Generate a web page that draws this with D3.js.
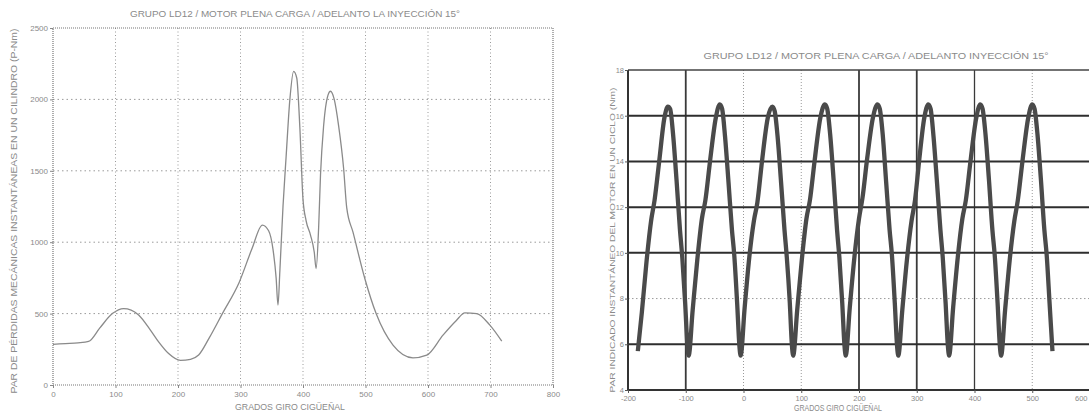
<!DOCTYPE html>
<html><head><meta charset="utf-8">
<script src="https://cdn.jsdelivr.net/npm/d3@7"></script>
<style>body{margin:0;background:#fff;overflow:hidden}svg{display:block}text{font-family:"Liberation Sans",Arial,sans-serif}</style>
</head><body>
<svg id="c" width="1089" height="417"></svg>
<script>
// ---- Left chart data (mechanical losses torque, one cylinder) ----
const lossAngles = [0,20,40,57,75,95,113,125,137,155,169,185,204,220,233,250,271,298,318,335,345,352,357,360,363,368,373,379,385,390,395,400,405,412,418,421,425,428,433,440,444,450,457,465,470,480,499,517,544,576,598,624,645,659,678,699,718];
const lossValues = [285,290,295,305,400,500,535,525,490,390,302,220,172,180,210,330,500,720,950,1120,1080,950,750,560,800,1250,1600,2000,2196,2150,1800,1300,1150,1050,930,815,1100,1470,1815,2030,2057,2000,1815,1516,1240,1070,744,500,279,190,209,349,450,505,500,419,307];
const leftXTicks = [0,100,200,300,400,500,600,700,800];
const leftYTicks = [0,500,1000,1500,2000,2500];
const leftTitle = "GRUPO LD12 / MOTOR PLENA CARGA / ADELANTO LA INYECCIÓN 15°";
const leftYLabel = "PAR DE PÉRDIDAS MECÁNICAS INSTANTÁNEAS EN UN CILINDRO (P-Nm)";
const xLabel = "GRADOS GIRO CIGÜEÑAL";

// ---- Right chart data (indicated torque of the engine) ----
const engAngles = [-183,-176,-168,-160,-154,-146,-137,-131,-127,-122,-116,-110,-106,-101,-97,
 -95,-88,-80,-72,-66,-58,-48,-41,-37,-32,-26,-20,-16,-11,-7,
 -5,2,10,18,24,32,42,50,54,59,65,71,75,80,84,
 86,93,101,109,115,123,133,141,145,150,156,162,166,171,175,
 177,184,192,200,206,214,224,232,236,241,247,253,257,262,266,
 268,275,283,291,297,304,313,320,324,329,335,341,345,350,354,
 356,363,371,379,385,393,403,410,414,419,425,431,435,440,444,
 446,453,461,469,475,483,493,500,504,509,515,521,525,530,535];
const engValues = [5.7,7.4,9.6,11.4,12.3,14.0,15.9,16.4,16.3,15.2,13.2,11.0,9.8,7.8,5.9,
 5.5,7.5,9.7,11.5,12.3,14.0,15.9,16.5,16.3,15.1,13.1,11.0,9.9,7.8,5.9,
 5.5,7.6,9.8,11.4,12.2,14.0,15.9,16.4,16.2,15.1,13.1,11.0,9.8,7.9,5.9,
 5.5,7.5,9.7,11.5,12.3,14.0,15.9,16.5,16.3,15.2,13.2,11.0,9.8,7.8,5.9,
 5.5,7.6,9.8,11.5,12.4,14.1,15.9,16.5,16.3,15.2,13.1,11.0,9.9,7.8,5.9,
 5.5,7.5,9.7,11.4,12.3,14.0,15.9,16.5,16.3,15.1,13.1,11.0,9.8,7.8,5.9,
 5.5,7.6,9.8,11.5,12.3,14.0,15.9,16.5,16.3,15.2,13.2,11.0,9.9,7.8,5.9,
 5.5,7.5,9.7,11.4,12.3,14.0,15.9,16.5,16.3,15.2,13.2,11.0,9.9,7.8,5.7];
const rightXTicks = [-200,-100,0,100,200,300,400,500,600];
const rightYTicks = [4,6,8,10,12,14,16,18];
const rightSolidX = [-100,200,300,400];
const rightSolidY = [6,10,12,14,16];
const rightTitle = "GRUPO LD12 / MOTOR PLENA CARGA / ADELANTO INYECCIÓN 15°";
const rightYLabel = "PAR INDICADO INSTANTÁNEO DEL MOTOR EN UN CICLO (Nm)";

const svg = d3.select("#c");
const labelColor = "#8a8a8a";

// ================= LEFT CHART =================
const xL = d3.scaleLinear().domain([0,800]).range([53,553]);
const yL = d3.scaleLinear().domain([0,2500]).range([385,28]);
const gL = svg.append("g");

gL.selectAll(".vg").data(leftXTicks.slice(1,-1)).join("line")
  .attr("x1",d=>xL(d)).attr("x2",d=>xL(d)).attr("y1",yL(2500)).attr("y2",yL(0))
  .attr("stroke","#9a9a9a").attr("stroke-width",1).attr("stroke-dasharray","1,2.5");
gL.selectAll(".hg").data(leftYTicks.slice(1,-1)).join("line")
  .attr("x1",xL(0)).attr("x2",xL(800)).attr("y1",d=>yL(d)).attr("y2",d=>yL(d))
  .attr("stroke","#9a9a9a").attr("stroke-width",1).attr("stroke-dasharray","1.5,3");
gL.append("rect").attr("x",xL(0)).attr("y",yL(2500)).attr("width",xL(800)-xL(0)).attr("height",yL(0)-yL(2500))
  .attr("fill","none").attr("stroke","#777").attr("stroke-width",1.2).attr("stroke-dasharray","1,1");

const axLB = d3.axisBottom(xL).tickValues(leftXTicks).tickSize(3).tickFormat(d3.format("d"));
const axLBg = gL.append("g").attr("transform",`translate(0,${yL(0)})`).call(axLB);
const axLL = d3.axisLeft(yL).tickValues(leftYTicks).tickSize(3).tickFormat(d3.format("d"));
const axLLg = gL.append("g").attr("transform",`translate(${xL(0)},0)`).call(axLL);
[axLBg,axLLg].forEach(g=>{
  g.select(".domain").remove();
  g.selectAll(".tick line").attr("stroke","#888");
  g.selectAll("text").attr("fill",labelColor).style("font-size","8px");
});
axLLg.selectAll("text").attr("x",-5);

const lossData = lossAngles.map((a,i)=>[a,lossValues[i]]);
gL.append("path").datum(lossData)
  .attr("fill","none").attr("stroke","#8a8a8a").attr("stroke-width",1.3)
  .attr("d",d3.line().x(d=>xL(d[0])).y(d=>yL(d[1])).curve(d3.curveMonotoneX));

gL.append("text").attr("x",295).attr("y",17).attr("text-anchor","middle")
  .attr("fill",labelColor).style("font-size","8.5px").attr("textLength",330).attr("lengthAdjust","spacingAndGlyphs").text(leftTitle);
gL.append("text").attr("x",290).attr("y",410).attr("text-anchor","middle")
  .attr("fill",labelColor).style("font-size","8.5px").attr("textLength",110).attr("lengthAdjust","spacingAndGlyphs").text(xLabel);
gL.append("text").attr("transform","translate(17,211) rotate(-90)").attr("text-anchor","middle")
  .attr("fill",labelColor).style("font-size","8.5px").attr("textLength",365).attr("lengthAdjust","spacingAndGlyphs").text(leftYLabel);

// ================= RIGHT CHART =================
const xR = d3.scaleLinear().domain([-200,600]).range([628,1090]);
const yR = d3.scaleLinear().domain([4,18]).range([390,70]);
const gR = svg.append("g");

gR.selectAll(".vg").data(rightXTicks.slice(1,-1)).join("line")
  .attr("x1",d=>xR(d)).attr("x2",d=>xR(d)).attr("y1",yR(18)).attr("y2",yR(4))
  .attr("stroke",d=>rightSolidX.includes(d)?"#3a3a3a":"#9a9a9a")
  .attr("stroke-width",d=>rightSolidX.includes(d)?(d===400?1.3:1.8):1)
  .attr("stroke-dasharray",d=>rightSolidX.includes(d)?null:"1,2");
gR.selectAll(".hg").data(rightYTicks.slice(1,-1)).join("line")
  .attr("x1",xR(-200)).attr("x2",xR(600)).attr("y1",d=>yR(d)).attr("y2",d=>yR(d))
  .attr("stroke",d=>rightSolidY.includes(d)?"#2e2e2e":"#9a9a9a")
  .attr("stroke-width",d=>rightSolidY.includes(d)?2:1)
  .attr("stroke-dasharray",d=>rightSolidY.includes(d)?null:"1.5,2.5");
gR.append("line").attr("x1",xR(-200)).attr("x2",xR(600)).attr("y1",yR(18)).attr("y2",yR(18)).attr("stroke","#444").attr("stroke-width",1.5);
gR.append("line").attr("x1",xR(-200)).attr("x2",xR(600)).attr("y1",yR(4)).attr("y2",yR(4)).attr("stroke","#333").attr("stroke-width",2);
gR.append("line").attr("x1",xR(-200)).attr("x2",xR(-200)).attr("y1",yR(18)).attr("y2",yR(4)).attr("stroke","#333").attr("stroke-width",2);

const axRB = d3.axisBottom(xR).tickValues(rightXTicks).tickSize(3).tickFormat(d=>String(d));
const axRBg = gR.append("g").attr("transform",`translate(0,${yR(4)})`).call(axRB);
const axRL = d3.axisLeft(yR).tickValues(rightYTicks).tickSize(3).tickFormat(d3.format("d"));
const axRLg = gR.append("g").attr("transform",`translate(${xR(-200)},0)`).call(axRL);
[axRBg,axRLg].forEach(g=>{
  g.select(".domain").remove();
  g.selectAll(".tick line").attr("stroke","#555");
  g.selectAll("text").attr("fill",labelColor).style("font-size","7.5px");
});
axRLg.selectAll("text").attr("x",-4);
// keep the last label (cut by the page edge in the original) inside the window
axRBg.selectAll(".tick").filter(d=>d===600).select("text").attr("text-anchor","end").attr("x",-3);

const engData = engAngles.map((a,i)=>[a,engValues[i]]);
gR.append("path").datum(engData)
  .attr("fill","none").attr("stroke","#4a4a4a").attr("stroke-width",4.3).attr("stroke-linejoin","round")
  .attr("d",d3.line().x(d=>xR(d[0])).y(d=>yR(d[1])).curve(d3.curveMonotoneX));

gR.append("text").attr("x",876).attr("y",59).attr("text-anchor","middle")
  .attr("fill",labelColor).style("font-size","8.5px").attr("textLength",345).attr("lengthAdjust","spacingAndGlyphs").text(rightTitle);
gR.append("text").attr("x",838).attr("y",411).attr("text-anchor","middle")
  .attr("fill",labelColor).style("font-size","8.5px").attr("textLength",88).attr("lengthAdjust","spacingAndGlyphs").text(xLabel);
gR.append("text").attr("transform","translate(615,240) rotate(-90)").attr("text-anchor","middle")
  .attr("fill",labelColor).style("font-size","8px").attr("textLength",305).attr("lengthAdjust","spacingAndGlyphs").text(rightYLabel);
</script>
</body></html>
